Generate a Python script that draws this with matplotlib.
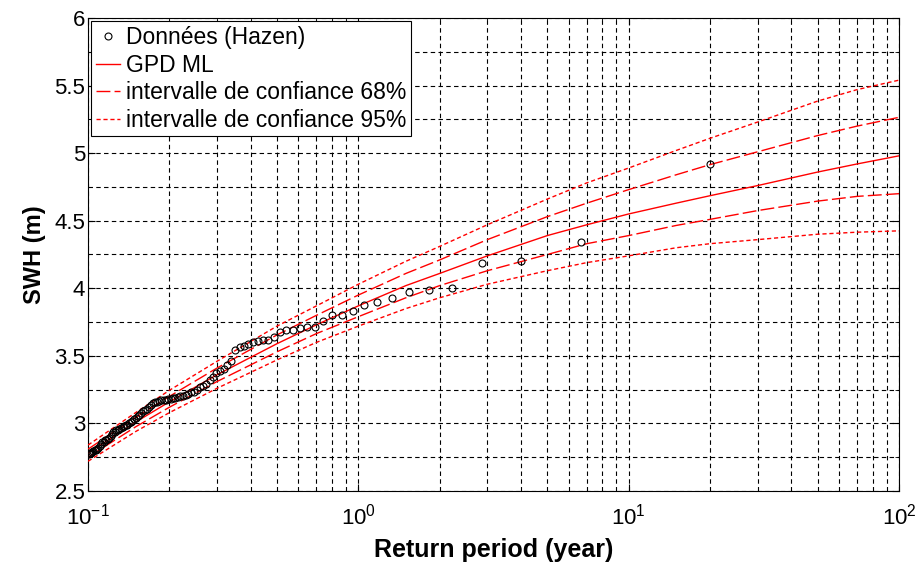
import matplotlib
matplotlib.use("Agg")
import matplotlib.pyplot as plt
from matplotlib.ticker import LogLocator, MultipleLocator, NullFormatter

plt.rcParams['font.family'] = ['Liberation Sans', 'DejaVu Sans']

# Données (Hazen) : période de retour (années) et hauteur significative (m)
data_T = [20.0, 6.667, 4.0, 2.857, 2.222, 1.818, 1.538, 1.333, 1.176, 1.053,
          0.9524, 0.8696, 0.8, 0.7407, 0.6897, 0.6452, 0.6061, 0.5714, 0.5405, 0.5128,
          0.4878, 0.4651, 0.4444, 0.4255, 0.4082, 0.3922, 0.3774, 0.3636, 0.3509, 0.339,
          0.328, 0.3175, 0.3077, 0.2985, 0.2899, 0.2817, 0.274, 0.2667, 0.2597, 0.2532,
          0.2469, 0.241, 0.2353, 0.2299, 0.2247, 0.2198, 0.2151, 0.2105, 0.2062, 0.202,
          0.198, 0.1942, 0.1905, 0.1869, 0.1835, 0.1802, 0.177, 0.1739, 0.1709, 0.1681,
          0.1653, 0.1626, 0.16, 0.1575, 0.155, 0.1527, 0.1504, 0.1481, 0.146, 0.1439,
          0.1418, 0.1399, 0.1379, 0.1361, 0.1342, 0.1325, 0.1307, 0.129, 0.1274, 0.1258,
          0.1242, 0.1227, 0.1212, 0.1198, 0.1183, 0.117, 0.1156, 0.1143, 0.113, 0.1117,
          0.1105, 0.1093, 0.1081, 0.107, 0.1058, 0.1047, 0.1036, 0.1026, 0.1015, 0.1005]
data_swh = [4.92, 4.34, 4.20, 4.19, 4.00, 3.985, 3.975, 3.925, 3.90, 3.875,
            3.835, 3.805, 3.805, 3.76, 3.715, 3.71, 3.705, 3.695, 3.69, 3.68,
            3.64, 3.62, 3.615, 3.61, 3.60, 3.59, 3.57, 3.565, 3.545, 3.46,
            3.43, 3.405, 3.39, 3.37, 3.345, 3.32, 3.29, 3.28, 3.27, 3.25,
            3.235, 3.23, 3.22, 3.21, 3.205, 3.20, 3.195, 3.19, 3.185, 3.18,
            3.18, 3.175, 3.17, 3.17, 3.165, 3.16, 3.155, 3.15, 3.135, 3.12,
            3.11, 3.10, 3.09, 3.08, 3.065, 3.055, 3.04, 3.03, 3.02, 3.01,
            3.00, 2.99, 2.985, 2.98, 2.97, 2.965, 2.96, 2.955, 2.95, 2.94,
            2.935, 2.92, 2.905, 2.895, 2.885, 2.88, 2.875, 2.865, 2.86, 2.85,
            2.835, 2.82, 2.81, 2.80, 2.80, 2.795, 2.79, 2.785, 2.78, 2.775]

# Ajustement GPD et intervalles de confiance
fit_T = [0.1, 0.15, 0.2, 0.3, 0.5, 0.7, 1, 1.5, 2, 3, 5, 7, 10, 15, 20, 30, 50, 70, 100]
gpd_ml = [2.78, 3.01, 3.16, 3.36, 3.59, 3.73, 3.87, 4.02, 4.11, 4.24,
          4.39, 4.47, 4.55, 4.63, 4.685, 4.76, 4.86, 4.92, 4.98]
ic68_haut = [2.81, 3.045, 3.20, 3.41, 3.655, 3.80, 3.95, 4.11, 4.21, 4.36,
             4.53, 4.63, 4.73, 4.84, 4.915, 5.01, 5.13, 5.20, 5.265]
ic68_bas = [2.75, 2.975, 3.12, 3.31, 3.53, 3.665, 3.79, 3.93, 4.02, 4.13,
            4.25, 4.33, 4.39, 4.465, 4.51, 4.575, 4.645, 4.68, 4.70]
ic95_haut = [2.84, 3.08, 3.245, 3.46, 3.72, 3.87, 4.03, 4.20, 4.31, 4.47,
             4.66, 4.78, 4.89, 5.02, 5.11, 5.23, 5.385, 5.47, 5.54]
ic95_bas = [2.72, 2.94, 3.08, 3.26, 3.47, 3.60, 3.72, 3.85, 3.93, 4.03,
            4.13, 4.19, 4.24, 4.30, 4.33, 4.36, 4.40, 4.415, 4.425]

rouge = '#ff0000'

fig = plt.figure(figsize=(9.18, 5.67), dpi=100)
ax = fig.add_axes([0.0959, 0.134, 0.8834, 0.8343])

ax.plot(data_T, data_swh, 'o', mfc='none', mec='black', ms=5, mew=0.8,
        label='Données (Hazen)', zorder=4)
ax.plot(fit_T, gpd_ml, '-', color=rouge, lw=1, label='GPD ML', zorder=3)
ax.plot(fit_T, ic68_haut, color=rouge, lw=1, ls=(0, (10, 3)),
        label='intervalle de confiance 68%', zorder=3)
ax.plot(fit_T, ic68_bas, color=rouge, lw=1, ls=(0, (10, 3)), zorder=3)
ax.plot(fit_T, ic95_haut, color=rouge, lw=1, ls=(0, (3, 2)),
        label='intervalle de confiance 95%', zorder=3)
ax.plot(fit_T, ic95_bas, color=rouge, lw=1, ls=(0, (3, 2)), zorder=3)

ax.set_xscale('log')
ax.set_xlim(0.1, 100)
ax.set_ylim(2.5, 6)
ax.yaxis.set_minor_locator(MultipleLocator(0.25))
ax.xaxis.set_minor_locator(LogLocator(base=10, subs=range(2, 10)))
ax.xaxis.set_minor_formatter(NullFormatter())
ax.set_yticks([2.5, 3, 3.5, 4, 4.5, 5, 5.5, 6])
ax.set_yticklabels(['2.5', '3', '3.5', '4', '4.5', '5', '5.5', '6'])

ax.grid(True, which='both', color='black', ls=(0, (4, 3)), lw=0.8)
ax.tick_params(which='both', direction='in', top=True, right=True, labelsize=16)
ax.tick_params(axis='y', pad=2)
ax.tick_params(axis='x', pad=9)
ax.tick_params(which='major', length=5)
ax.tick_params(which='minor', length=3)
for s in ax.spines.values():
    s.set_linewidth(0.8)

ax.set_xlabel('Return period (year)', fontsize=18, fontweight='bold', labelpad=6)
ax.set_ylabel('SWH (m)', fontsize=17, fontweight='bold', labelpad=6)

leg = ax.legend(loc='upper left', fontsize=16.5, frameon=True, fancybox=False,
                edgecolor='black', framealpha=1, handlelength=1.05,
                handletextpad=0.25, labelspacing=0.2, borderpad=0.2,
                borderaxespad=0.15)
leg.get_frame().set_linewidth(0.8)

fig.savefig('out.png', dpi=100)
